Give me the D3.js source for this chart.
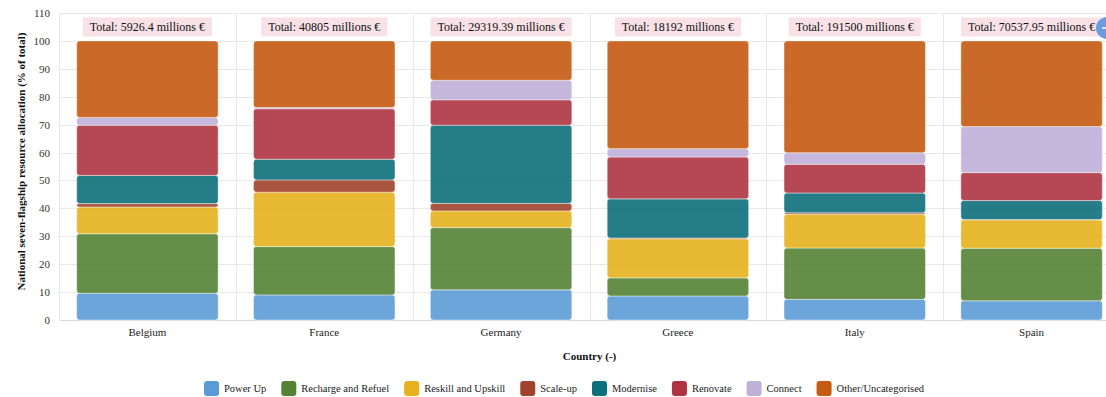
<!DOCTYPE html>
<html>
<head>
<meta charset="utf-8">
<script src="https://cdn.jsdelivr.net/npm/d3@7"></script>
<style>
  html, body { margin: 0; padding: 0; background: #fff; overflow: hidden; }
  svg, svg text { font-family: "Liberation Serif", Tinos, "Times New Roman", Times, "DejaVu Serif", serif; }
</style>
</head>
<body>
<svg id="chart" width="1106" height="397"></svg>
<script>
// Countries and the reported total envelope for each
const countries = ["Belgium", "France", "Germany", "Greece", "Italy", "Spain"];
const totals = ["5926.4", "40805", "29319.39", "18192", "191500", "70537.95"];

// Flagship categories (stack order, bottom to top)
const flagships = ["Power Up", "Recharge and Refuel", "Reskill and Upskill", "Scale-up",
                   "Modernise", "Renovate", "Connect", "Other/Uncategorised"];
const flagshipColors = ["#5b9bd5", "#548235", "#e6b31e", "#a0432a",
                        "#0d6f7a", "#ae3443", "#bfb0d8", "#c55a11"];

// Share of each country's allocation per flagship (% of total)
const powerUp     = [9.6, 9.0, 10.8, 8.6, 7.4, 6.9];
const recharge    = [21.3, 17.3, 22.3, 6.5, 18.4, 18.8];
const reskill     = [9.6, 19.5, 6.0, 14.0, 12.1, 10.2];
const scaleUp     = [1.2, 4.4, 2.7, 0.3, 0.5, 0.1];
const modernise   = [10.1, 7.4, 28.0, 14.0, 7.1, 6.8];
const renovate    = [18.0, 18.1, 9.1, 15.0, 10.3, 10.0];
const connect     = [2.8, 0.4, 7.0, 3.0, 4.1, 16.5];
const other       = [27.4, 23.9, 14.1, 38.6, 40.1, 30.7];

const yTicks = [0, 10, 20, 30, 40, 50, 60, 70, 80, 90, 100, 110];

const series = [powerUp, recharge, reskill, scaleUp, modernise, renovate, connect, other];
const rows = countries.map((c, i) => {
  const r = { country: c };
  flagships.forEach((f, k) => { r[f] = series[k][i]; });
  return r;
});

const FONT = '"Liberation Serif", Tinos, "Times New Roman", Times, "DejaVu Serif", serif';

const svg = d3.select("#chart");
const plot = { left: 59, right: 1120, top: 13, bottom: 320 };

const x = d3.scaleBand().domain(countries).range([plot.left, plot.right]).paddingInner(0.2).paddingOuter(0.1);
const xCell = d3.scaleBand().domain(countries).range([plot.left, plot.right]).padding(0);
const y = d3.scaleLinear().domain([0, 110]).range([plot.bottom, plot.top]);
const color = d3.scaleOrdinal().domain(flagships).range(flagshipColors);

// Grid
const grid = svg.append("g").attr("stroke", "#e8e8e8").attr("stroke-width", 1);
grid.selectAll("line.h").data(yTicks).join("line")
  .attr("x1", plot.left).attr("x2", plot.right)
  .attr("y1", d => Math.round(y(d)) + 0.5).attr("y2", d => Math.round(y(d)) + 0.5);
grid.selectAll("line.v").data(countries).join("line")
  .attr("x1", d => Math.round(xCell(d)) + 0.5).attr("x2", d => Math.round(xCell(d)) + 0.5)
  .attr("y1", plot.top).attr("y2", plot.bottom);

// Y axis labels
svg.append("g")
  .attr("transform", `translate(${plot.left},0)`)
  .call(d3.axisLeft(y).tickValues(yTicks).tickSize(0).tickPadding(9))
  .attr("font-family", FONT)
  .call(g => g.select(".domain").remove())
  .call(g => g.selectAll("text").attr("font-size", 11).attr("fill", "#333"));

// X axis
svg.append("g")
  .attr("transform", `translate(0,${plot.bottom})`)
  .call(d3.axisBottom(x).tickSize(0).tickPadding(8))
  .attr("font-family", FONT)
  .call(g => g.select(".domain").attr("stroke", "#d8d8d8"))
  .call(g => g.selectAll("text").attr("font-size", 11).attr("fill", "#222"));

// Stacked bars
const stacked = d3.stack().keys(flagships)(rows);
svg.append("g").selectAll("g").data(stacked).join("g")
  .attr("fill", d => color(d.key))
  .attr("fill-opacity", 0.9)
  .selectAll("rect").data(d => d).join("rect")
  .attr("x", d => x(d.data.country))
  .attr("width", x.bandwidth())
  .attr("y", d => y(d[1]))
  .attr("height", d => Math.max(0, y(d[0]) - y(d[1])))
  .attr("rx", 3).attr("ry", 3)
  .attr("stroke", "#fff").attr("stroke-width", 0.6).attr("stroke-opacity", 0.7);

// Total labels above each bar
const totalG = svg.append("g").attr("font-family", FONT).selectAll("g").data(countries).join("g")
  .attr("transform", d => `translate(${x(d) + x.bandwidth() / 2},${y(105)})`);
totalG.append("text")
  .attr("text-anchor", "middle").attr("dy", "0.35em")
  .attr("font-size", 12).attr("fill", "#111")
  .text((d, i) => `Total: ${totals[i]} millions €`)
  .each(function () {
    const b = this.getBBox();
    d3.select(this.parentNode).insert("rect", "text")
      .attr("x", b.x - 7).attr("y", -9.5).attr("width", b.width + 14).attr("height", 19)
      .attr("fill", "#f8e1e7");
  });

// Axis titles
svg.append("text")
  .attr("x", (plot.left + plot.right) / 2).attr("y", 360)
  .attr("text-anchor", "middle").attr("font-weight", "bold").attr("font-size", 11)
  .attr("fill", "#111").text("Country (-)");

svg.append("text")
  .attr("transform", `translate(25,${(plot.top + plot.bottom) / 2 - 5}) rotate(-90)`)
  .attr("text-anchor", "middle").attr("font-weight", "bold").attr("font-size", 11)
  .attr("fill", "#111").attr("textLength", 258).attr("lengthAdjust", "spacingAndGlyphs")
  .text("National seven-flagship resource allocation (% of total)");

// Legend
const legend = svg.append("g").attr("transform", "translate(204,381)");
let lx = 0;
flagships.forEach((f, k) => {
  const item = legend.append("g").attr("transform", `translate(${lx},0)`);
  item.append("rect").attr("width", 15).attr("height", 15).attr("rx", 3)
    .attr("fill", flagshipColors[k]);
  const t = item.append("text").attr("x", 20).attr("y", 7.5).attr("dy", "0.35em")
    .attr("font-size", 10.5).attr("fill", "#222").text(f);
  lx += 20 + t.node().getComputedTextLength() + 15;
});

// Zoom-reset button at the top right corner
const btn = svg.append("g").attr("transform", "translate(1107,28)");
btn.append("circle").attr("r", 11).attr("fill", "#6b9be0");
btn.append("line").attr("x1", -5).attr("x2", 5).attr("stroke", "#fff").attr("stroke-width", 1.5);
</script>
</body>
</html>
